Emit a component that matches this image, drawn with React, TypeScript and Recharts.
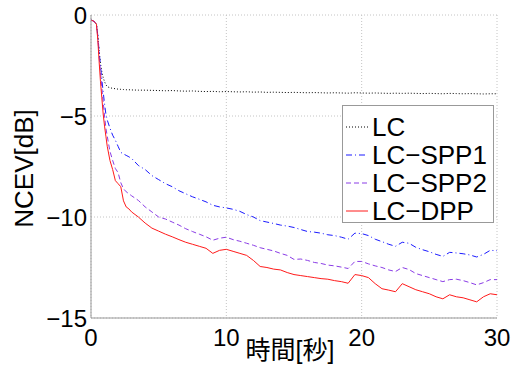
import { LineChart, Line, XAxis, YAxis, CartesianGrid, Legend } from 'recharts';

const times = [
  0, 0.2, 0.4, 0.5, 0.6, 0.7, 0.8, 0.9, 1.0, 1.1, 1.2, 1.4, 1.6, 1.8, 2.0, 2.2, 2.4, 2.6, 2.8, 3.0,
  3.5, 4, 4.5, 5, 5.5, 6, 6.5, 7, 7.5, 8, 8.5, 9, 9.5, 10, 10.5, 11, 11.5, 12, 12.5, 13, 13.5, 14,
  14.5, 15, 15.5, 16, 16.5, 17, 17.5, 18, 18.5, 19, 19.5, 20, 20.5, 21, 21.5, 22, 22.5, 23, 23.5,
  24, 24.5, 25, 25.5, 26, 26.5, 27, 27.5, 28, 28.5, 29, 29.5, 30,
];

const lc = [
  -0.25, -0.3, -0.45, -1.0, -1.8, -2.4, -2.8, -3.1, -3.3, -3.45, -3.55, -3.6, -3.63, -3.65, -3.67,
  -3.68, -3.69, -3.7, -3.7, -3.71,
  -3.72, -3.72, -3.73, -3.74, -3.75, -3.74, -3.76, -3.77, -3.76, -3.78, -3.79, -3.78, -3.8, -3.79,
  -3.8, -3.81, -3.8, -3.82, -3.81, -3.83, -3.82, -3.83, -3.84, -3.83, -3.84, -3.85, -3.84, -3.85,
  -3.86, -3.85, -3.86, -3.87, -3.85, -3.86, -3.87, -3.86, -3.87, -3.88, -3.87, -3.88, -3.87, -3.88,
  -3.89, -3.88, -3.89, -3.9, -3.88, -3.89, -3.9, -3.89, -3.9, -3.91, -3.9, -3.9,
];

const spp1 = [
  -0.25, -0.3, -0.45, -1.0, -1.8, -2.5, -3.2, -3.8, -4.4, -4.9, -5.2, -5.6, -5.95, -6.2, -6.5,
  -6.8, -6.88, -6.95, -7.02, -7.1,
  -7.45, -7.65, -7.95, -8.15, -8.35, -8.5, -8.7, -8.85, -9.0, -9.12, -9.25, -9.42, -9.5, -9.55,
  -9.62, -9.72, -9.88, -10.0, -10.18, -10.25, -10.32, -10.4, -10.45, -10.52, -10.62, -10.72,
  -10.75, -10.8, -10.88, -10.92, -11.0, -11.1, -10.8, -10.82, -10.92, -11.1, -11.22, -11.35,
  -11.45, -11.25, -11.3, -11.5, -11.62, -11.72, -11.85, -11.95, -11.75, -11.78, -11.82, -11.88,
  -11.98, -11.85, -11.65, -11.67,
];

const spp2 = [
  -0.25, -0.3, -0.45, -1.1, -2.0, -2.8, -3.6, -4.3, -5.0, -5.6, -6.0, -6.75, -7.2, -7.6, -7.8,
  -8.3, -8.6, -8.75, -8.85, -8.95,
  -9.18, -9.5, -9.75, -10.0, -10.1, -10.25, -10.4, -10.58, -10.72, -10.85, -10.98, -11.15, -11.05,
  -11.0, -11.12, -11.2, -11.3, -11.4, -11.52, -11.6, -11.68, -11.8, -11.9, -12.1, -12.08, -12.15,
  -12.25, -12.3, -12.38, -12.42, -12.48, -12.55, -12.2, -12.2, -12.32, -12.42, -12.5, -12.62,
  -12.7, -12.5, -12.6, -12.8, -12.9, -13.0, -13.1, -13.2, -13.1, -13.08, -13.15, -13.25, -13.36,
  -13.25, -13.1, -13.1,
];

const dpp = [
  -0.25, -0.3, -0.45, -1.2, -2.3, -3.3, -4.1, -4.9, -5.5, -6.0, -6.5, -7.2, -7.65, -8.2, -8.35,
  -8.5, -9.2, -9.5, -9.6, -9.75,
  -10.0, -10.3, -10.55, -10.7, -10.85, -10.98, -11.12, -11.25, -11.35, -11.45, -11.55, -11.8,
  -11.65, -11.6, -11.7, -11.8, -11.9, -12.15, -12.45, -12.5, -12.58, -12.62, -12.75, -12.85,
  -12.9, -12.95, -13.0, -13.05, -13.08, -13.15, -13.2, -13.28, -12.85, -12.9, -13.0, -13.3,
  -13.55, -13.62, -13.7, -13.3, -13.45, -13.6, -13.7, -13.8, -13.95, -14.05, -13.85, -13.95,
  -14.0, -14.1, -14.2, -13.95, -13.8, -13.85,
];

const xTicks = [0, 10, 20, 30];
const yTicks = [-15, -10, -5, 0];

const series = [
  { key: 'lc', label: 'LC', color: '#000000', dash: '1 2' },
  { key: 'spp1', label: 'LC−SPP1', color: '#1a1aff', dash: '6 3 1 3' },
  { key: 'spp2', label: 'LC−SPP2', color: '#8a3ce6', dash: '5 3' },
  { key: 'dpp', label: 'LC−DPP', color: '#ff1a1a', dash: undefined },
];

const data = times.map((t, i) => ({ t, lc: lc[i], spp1: spp1[i], spp2: spp2[i], dpp: dpp[i] }));

const font = '"Liberation Sans", Arial, "Noto Sans CJK JP", sans-serif';
const fmt = (v: number) => String(v).replace('-', '−');

function LegendBox() {
  return (
    <div
      style={{
        width: 152,
        height: 118,
        boxSizing: 'border-box',
        border: '1px solid #999',
        background: '#fff',
        paddingTop: 7,
        fontFamily: font,
        fontSize: 26,
        color: '#000',
      }}
    >
      {series.map((s) => (
        <div key={s.key} style={{ display: 'flex', alignItems: 'center', height: 28 }}>
          <svg width={28} height={28} style={{ flex: 'none' }}>
            <line x1={3} y1={14} x2={25} y2={14} stroke={s.color} strokeWidth={1} strokeDasharray={s.dash} />
          </svg>
          <span style={{ lineHeight: '28px', marginLeft: 1 }}>{s.label}</span>
        </div>
      ))}
    </div>
  );
}

export default function App() {
  return (
    <div style={{ position: 'absolute', left: 0, top: 0, background: '#fff' }}>
      <LineChart width={512} height={367} data={data} margin={{ top: 15, right: 15, bottom: 0, left: 0 }}>
        <CartesianGrid stroke="#c4c4c4" strokeDasharray="1 2" />
        <XAxis
          dataKey="t"
          type="number"
          domain={[0, 30]}
          ticks={xTicks}
          height={49}
          tickSize={0}
          tickMargin={11}
          axisLine={{ stroke: '#999' }}
          tick={{ fill: '#000', fontSize: 24, fontFamily: font }}
          label={{ value: '時間[秒]', position: 'insideBottom', offset: 8, dx: -4, fill: '#000', fontSize: 25, fontFamily: font }}
        />
        <XAxis xAxisId="top" orientation="top" dataKey="t" type="number" domain={[0, 30]} height={0} tick={false} tickLine={false} axisLine={{ stroke: '#999' }} />
        <YAxis
          type="number"
          domain={[-15, 0]}
          ticks={yTicks}
          width={91}
          tickSize={0}
          tickMargin={4}
          tickFormatter={fmt}
          axisLine={{ stroke: '#999' }}
          tick={{ fill: '#000', fontSize: 24, fontFamily: font }}
          label={{ value: 'NCEV[dB]', angle: -90, position: 'center', dx: -22, dy: 2, fill: '#000', fontSize: 26, fontFamily: font }}
        />
        <YAxis yAxisId="right" orientation="right" type="number" domain={[-15, 0]} width={0} tick={false} tickLine={false} axisLine={{ stroke: '#999' }} />
        <Legend
          layout="horizontal"
          verticalAlign="middle"
          align="center"
          content={() => <LegendBox />}
          wrapperStyle={{ position: 'absolute', left: 342, top: 105, width: 152, height: 118 }}
        />
        {series.map((s) => (
          <Line
            key={s.key}
            dataKey={s.key}
            name={s.label}
            type="linear"
            stroke={s.color}
            strokeWidth={1}
            strokeDasharray={s.dash}
            dot={false}
            activeDot={false}
            isAnimationActive={false}
          />
        ))}
      </LineChart>
    </div>
  );
}
